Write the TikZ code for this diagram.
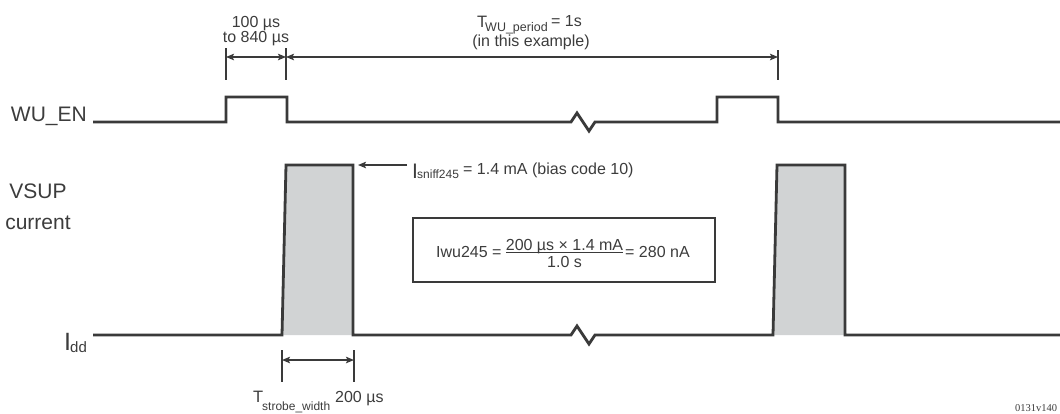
\documentclass[tikz,border=0pt]{standalone}
\usepackage{fontspec}
\setmainfont{Liberation Sans}
\newfontfamily\codefont{Liberation Serif}
\usetikzlibrary{arrows.meta}
\definecolor{sigc}{RGB}{58,58,58}
\definecolor{txtc}{RGB}{60,60,60}
\definecolor{fillc}{RGB}{209,211,212}
\newcommand{\fs}[1]{\fontsize{#1}{#1}\selectfont}
\begin{document}
\begin{tikzpicture}[x=1pt,y=-1pt,
  sig/.style={line width=2.8pt, draw=sigc, line join=miter},
  dimline/.style={line width=1.3pt, draw=sigc},
  dimarr/.style={dimline, {Stealth[length=8pt,width=6.5pt,inset=1.5pt]}-{Stealth[length=8pt,width=6.5pt,inset=1.5pt]}},
  lbl/.style={inner sep=0pt, text=txtc, font=\fs{16}},
  big/.style={inner sep=0pt, text=txtc, font=\fs{21}},
  sub/.style={inner sep=0pt, text=txtc, font=\fs{12}},
  box/.style={draw=sigc, line width=1.6pt}]
\useasboundingbox (0,0) rectangle (1060,413);

% ---------- WU_EN ----------
\node[big, anchor=base east] (wuen) at (87,121) {WU\_EN};
\coordinate (w0) at (93,122);
\coordinate (w1) at (1060,122);
\draw[sig] (w0) -- (226,122) -- (226,97) -- (287,97) -- (287,122) -- (571,122)
  -- (577,113) -- (589,131) -- (595,122) -- (717,122) -- (717,97) -- (778,97)
  -- (778,122) -- (w1);

% ---------- dimensions top ----------
\coordinate (ta1) at (226,48); \coordinate (tb1) at (226,80);
\coordinate (ta2) at (286,48); \coordinate (tb2) at (286,80);
\coordinate (ta3) at (778,50); \coordinate (tb3) at (778,80);
\draw[dimline] (ta1) -- (tb1);
\draw[dimline] (ta2) -- (tb2);
\draw[dimline] (ta3) -- (tb3);
\coordinate (a1) at (226,57); \coordinate (a2) at (286,57); \coordinate (a3) at (778,57);
\draw[dimarr] (a1) -- (a2);
\draw[dimarr] (a2) -- (a3);
\node[lbl, anchor=base] (l100) at (256,27) {100 µs};
\node[lbl, anchor=base] (l840) at (256,42) {to 840 µs};

\node[lbl, anchor=base west, font=\fs{16.5}] (tT) at (477,27) {T};
\node[sub, anchor=base west, font=\fs{12.5}] (tsub) at (485,31) {WU\_period};
\node[lbl, anchor=base west] (teq) at (551,26) {= 1s};
\node[lbl, anchor=base] (tex) at (531,46) {(in this example)};

% ---------- VSUP current ----------
\node[big, anchor=base] (vsup) at (38,198) {VSUP};
\node[big, anchor=base] (curr) at (38,229) {current};

\node[big, anchor=base west, font=\fs{25}] (idd) at (64,350) {I};
\node[sub, anchor=base west, font=\fs{15}] (iddsub) at (70,352) {dd};

\fill[fillc] (282,335) -- (286,165) -- (353,165) -- (353,335) -- cycle;
\fill[fillc] (773,335) -- (777,165) -- (845,165) -- (845,335) -- cycle;
\coordinate (c0) at (93,335);
\coordinate (c1) at (1060,335);
\draw[sig] (c0) -- (282,335) -- (286,165) -- (353,165) -- (353,335) -- (571,335)
  -- (577,326) -- (589,344) -- (595,335) -- (773,335) -- (777,165) -- (845,165)
  -- (845,335) -- (c1);

% ---------- I_sniff ----------
\coordinate (sn0) at (407,165);
\coordinate (sn1) at (358,165);
\draw[dimline, -{Stealth[length=8pt,width=6.5pt,inset=1.5pt]}] (sn0) -- (sn1);
\node[big, anchor=base west] (isn) at (412,178) {I};
\node[sub, anchor=base west] (isnsub) at (417,178) {sniff245};
\node[lbl, anchor=base west] (isneq) at (463,174) {= 1.4 mA (bias code 10)};

% ---------- formula box ----------
\draw[box] (413,218) rectangle (715,282);
\node[lbl, anchor=base west] (fl) at (436,257) {Iwu245 =};
\node[lbl, anchor=base] (fnum) at (564.5,250) {200 µs × 1.4 mA};
\node[lbl, anchor=base] (fden) at (564.5,267) {1.0 s};
\coordinate (fr0) at (506,252.5); \coordinate (fr1) at (623,252.5);
\draw[line width=1pt, sigc] (fr0) -- (fr1);
\node[lbl, anchor=base west] (fr) at (625,257) {= 280 nA};

% ---------- strobe width ----------
\coordinate (sa1) at (282,350); \coordinate (sb1) at (282,382);
\coordinate (sa2) at (354,350); \coordinate (sb2) at (354,382);
\draw[dimline] (sa1) -- (sb1);
\draw[dimline] (sa2) -- (sb2);
\coordinate (s1) at (282,360); \coordinate (s2) at (354,360);
\draw[dimarr] (s1) -- (s2);
\node[lbl, anchor=base west, font=\fs{16.5}] (sT) at (253,402) {T};
\node[sub, anchor=base west] (ssub) at (262,410) {strobe\_width};
\node[lbl, anchor=base west] (s200) at (335,402) {200 µs};

\node[inner sep=0pt, anchor=base west, text=txtc, font=\codefont\fs{10.5}] (code) at (1015,411) {0131v140};
\end{tikzpicture}
\end{document}
